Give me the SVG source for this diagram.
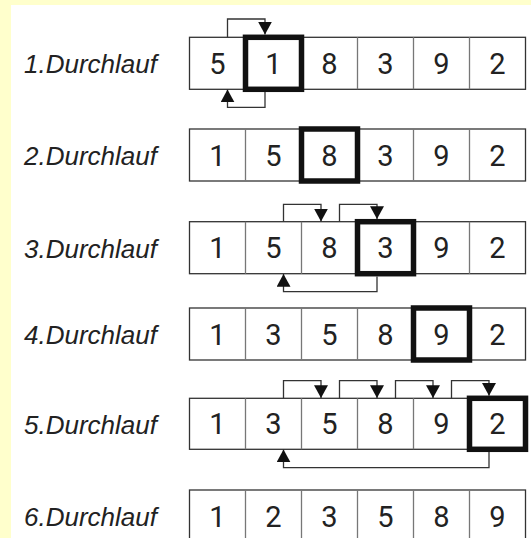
<svg xmlns="http://www.w3.org/2000/svg" width="531" height="538" viewBox="0 0 531 538">
<style>
.lbl{font-family:"Liberation Sans",Arial,sans-serif;font-style:italic;font-size:26px;fill:#222}
.num{font-family:"Liberation Sans Narrow",Roboto,"Liberation Sans",sans-serif;font-size:29px;fill:#222;text-anchor:middle}
.row{fill:#fff;stroke:#333;stroke-width:1.3}
.div{stroke:#777;stroke-width:1.3}
.bold{fill:none;stroke:#111;stroke-width:5.5}
.arr{fill:none;stroke:#333;stroke-width:1.3;marker-end:url(#ah)}
</style>
<defs>
<marker id="ah" markerUnits="userSpaceOnUse" markerWidth="14" markerHeight="14" viewBox="0 0 12 12" refX="11" refY="6" orient="auto">
<path d="M0,0 L11,6 L0,12 Z" fill="#111"/>
</marker>
</defs>
<rect width="531" height="538" fill="#fff"/>
<rect x="0" y="0" width="531" height="5" fill="#ffffcc"/>
<rect x="0" y="0" width="11" height="538" fill="#ffffcc"/>

<g id="row1">
<text class="lbl" x="24" y="73">1.Durchlauf</text>
<rect class="row" x="189.5" y="37.3" width="336" height="52"/>
<path class="div" d="M245.5,37.3V89.3M301.5,37.3V89.3M357.5,37.3V89.3M413.5,37.3V89.3M469.5,37.3V89.3"/>
<text class="num" x="217.5" y="73.8">5</text><text class="num" x="273.5" y="73.8">1</text><text class="num" x="329.5" y="73.8">8</text><text class="num" x="385.5" y="73.8">3</text><text class="num" x="441.5" y="73.8">9</text><text class="num" x="497.5" y="73.8">2</text>
<rect class="bold" x="245.5" y="37.3" width="56" height="52"/>
</g>

<g id="row2">
<text class="lbl" x="24" y="165">2.Durchlauf</text>
<rect class="row" x="189.5" y="129" width="336" height="52"/>
<path class="div" d="M245.5,129V181M301.5,129V181M357.5,129V181M413.5,129V181M469.5,129V181"/>
<text class="num" x="217.5" y="165.5">1</text><text class="num" x="273.5" y="165.5">5</text><text class="num" x="329.5" y="165.5">8</text><text class="num" x="385.5" y="165.5">3</text><text class="num" x="441.5" y="165.5">9</text><text class="num" x="497.5" y="165.5">2</text>
<rect class="bold" x="301.5" y="129" width="56" height="52"/>
</g>

<g id="row3">
<text class="lbl" x="24" y="257.5">3.Durchlauf</text>
<rect class="row" x="189.5" y="221.7" width="336" height="52"/>
<path class="div" d="M245.5,221.7V273.7M301.5,221.7V273.7M357.5,221.7V273.7M413.5,221.7V273.7M469.5,221.7V273.7"/>
<text class="num" x="217.5" y="258.2">1</text><text class="num" x="273.5" y="258.2">5</text><text class="num" x="329.5" y="258.2">8</text><text class="num" x="385.5" y="258.2">3</text><text class="num" x="441.5" y="258.2">9</text><text class="num" x="497.5" y="258.2">2</text>
<rect class="bold" x="357.5" y="221.7" width="56" height="52"/>
</g>

<g id="row4">
<text class="lbl" x="24" y="344">4.Durchlauf</text>
<rect class="row" x="189.5" y="308" width="336" height="52"/>
<path class="div" d="M245.5,308V360M301.5,308V360M357.5,308V360M413.5,308V360M469.5,308V360"/>
<text class="num" x="217.5" y="344.5">1</text><text class="num" x="273.5" y="344.5">3</text><text class="num" x="329.5" y="344.5">5</text><text class="num" x="385.5" y="344.5">8</text><text class="num" x="441.5" y="344.5">9</text><text class="num" x="497.5" y="344.5">2</text>
<rect class="bold" x="413.5" y="308" width="56" height="52"/>
</g>

<g id="row5">
<text class="lbl" x="24" y="433.5">5.Durchlauf</text>
<rect class="row" x="189.5" y="398.3" width="336" height="51"/>
<path class="div" d="M245.5,398.3V449.3M301.5,398.3V449.3M357.5,398.3V449.3M413.5,398.3V449.3M469.5,398.3V449.3"/>
<text class="num" x="217.5" y="434.3">1</text><text class="num" x="273.5" y="434.3">3</text><text class="num" x="329.5" y="434.3">5</text><text class="num" x="385.5" y="434.3">8</text><text class="num" x="441.5" y="434.3">9</text><text class="num" x="497.5" y="434.3">2</text>
<rect class="bold" x="469.5" y="398.3" width="56" height="51"/>
</g>

<g id="row6">
<text class="lbl" x="24" y="526">6.Durchlauf</text>
<rect class="row" x="189.5" y="490" width="336" height="52"/>
<path class="div" d="M245.5,490V542M301.5,490V542M357.5,490V542M413.5,490V542M469.5,490V542"/>
<text class="num" x="217.5" y="526.5">1</text><text class="num" x="273.5" y="526.5">2</text><text class="num" x="329.5" y="526.5">3</text><text class="num" x="385.5" y="526.5">5</text><text class="num" x="441.5" y="526.5">8</text><text class="num" x="497.5" y="526.5">9</text>
</g>

<g id="connectors">
<path class="arr" d="M227.5,37.3V19H265V34.5"/>
<path class="arr" d="M265,92V107.3H227.5V89.5"/>

<path class="arr" d="M283.5,221.7V204.3H321V221.5"/>
<path class="arr" d="M339.5,221.7V204.3H377V219"/>
<path class="arr" d="M377,276.5V291.7H283.5V274"/>

<path class="arr" d="M283.5,398.3V380.7H321V398"/>
<path class="arr" d="M339.5,398.3V380.7H377V398"/>
<path class="arr" d="M395.5,398.3V380.7H433V398"/>
<path class="arr" d="M451.5,398.3V380.7H489V395.8"/>
<path class="arr" d="M489,452V467.7H283.5V449.5"/>
</g>
</svg>
